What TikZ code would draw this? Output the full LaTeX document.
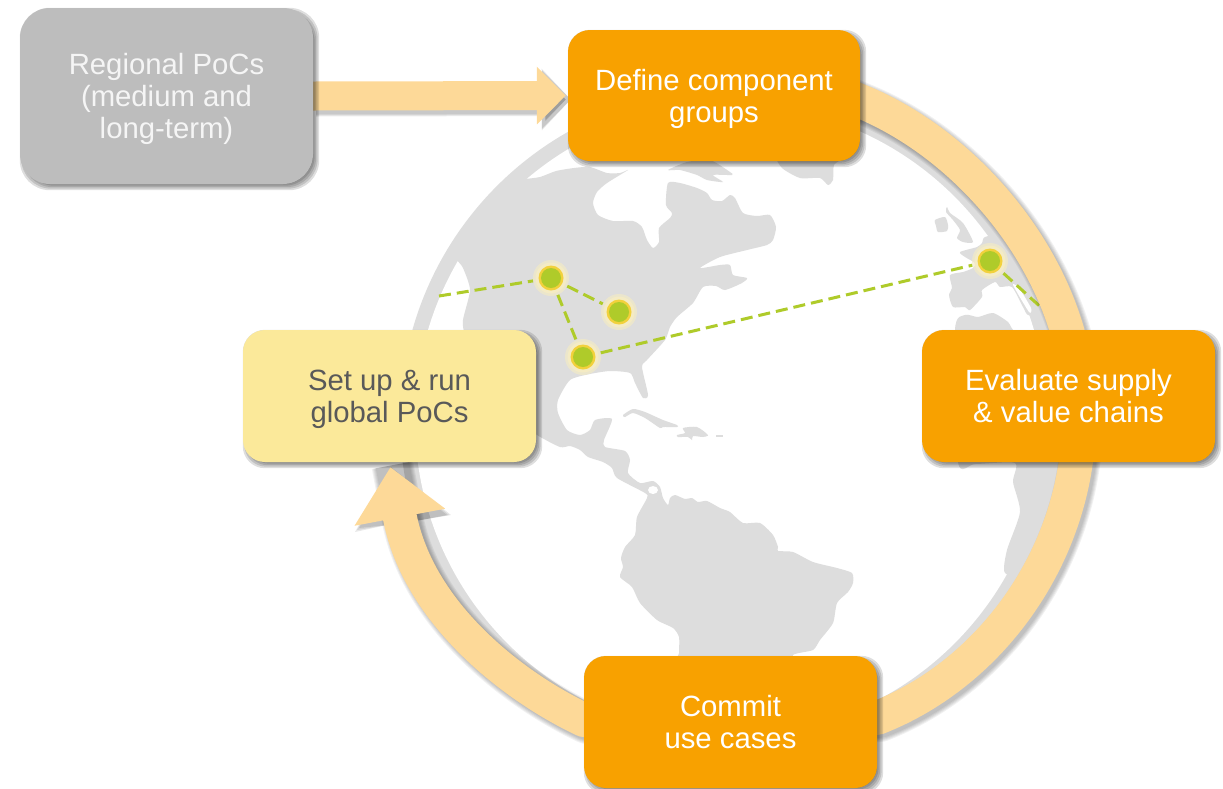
\documentclass[tikz,border=0pt]{standalone}
\usepackage{fontspec}
\setmainfont{Liberation Sans}
\usetikzlibrary{arrows.meta}
\definecolor{orangebox}{HTML}{F8A100}
\definecolor{yellowbox}{HTML}{FBE99A}
\definecolor{greybox}{HTML}{BDBDBD}
\definecolor{bandcol}{HTML}{FDD998}
\definecolor{landcol}{HTML}{DDDDDD}
\definecolor{labeldark}{HTML}{595959}
\definecolor{dotgreen}{HTML}{AFCB2A}
\definecolor{dotyellow}{HTML}{F2D13C}
\definecolor{dotglow}{HTML}{F4EBC4}
\pgfdeclarelayer{globe}
\pgfdeclarelayer{ring}
\pgfdeclarelayer{shade}
\pgfsetlayers{globe,ring,shade,main}
\tikzset{
  card/.style={rounded corners=22pt,inner sep=0pt,minimum width=293pt,minimum height=132pt,align=center,
    font=\fontsize{29.3}{32}\selectfont,text=white,fill=orangebox,text depth=0pt},
  land/.style={fill=landcol},
  link/.style={draw=dotgreen,line width=3pt,dash pattern=on 12pt off 6pt},
  marker/.style={circle,inner sep=0pt,minimum size=36pt,fill=dotglow,fill opacity=.65,
    path picture={
      \fill[dotglow,fill opacity=1] (path picture bounding box.center) circle[radius=15.5pt];
      \fill[dotyellow,fill opacity=1] (path picture bounding box.center) circle[radius=12.5pt];
      \fill[dotgreen,fill opacity=1] (path picture bounding box.center) circle[radius=10pt];}},
  band/.style={draw=bandcol,line width=34pt,line join=round},
  bandshade/.style={draw=black,draw opacity=.055,line width=#1,line join=round,
    transform canvas={shift={(3pt,-3pt)}}},
}
\newcommand{\cardshade}[2][22]{%
  \begin{pgfonlayer}{shade}
  \foreach \w in {-3,-1.5,0,1.5,3}{
    \fill[black,opacity=.13,rounded corners=#1pt]
      ([shift={(3-\w,3+\w)}]#2.south west) rectangle ([shift={(3+\w,3-\w)}]#2.north east);
  }
  \end{pgfonlayer}}
\newcommand{\rightarc}{(def.center) -- (r0) -- (r1) .. controls (r1a) and (r1b) .. (r2) .. controls (r2a) and (r2b) .. (r3) -- (com.center)}
\newcommand{\leftarc}{(com.center) -- (l1) .. controls (l1a) and (l1b) .. (l2) -- (setup.south)}
\begin{document}
\begin{tikzpicture}[x=1pt,y=-1pt]
\useasboundingbox (0,0) rectangle (1223,788);

% cards
\node[card,fill=greybox,rounded corners=30pt,minimum width=293pt,minimum height=176pt,text=white!96!black] (reg) at (166.5,96) {Regional PoCs\\(medium and\\long-term)};
\node[card,minimum width=292pt,minimum height=131pt] (def) at (714,95.5) {Define component\\groups};
\node[card,fill=yellowbox,text=labeldark] (setup) at (389.5,396) {Set up \& run\\global PoCs};
\node[card] (eval) at (1068.5,396) {Evaluate supply\\\& value chains};
\node[card] (com) at (730.5,722) {Commit\\use cases};
\cardshade[30]{reg}
\cardshade{def}
\cardshade{setup}
\cardshade{eval}
\cardshade{com}

% globe
\begin{pgfonlayer}{globe}
\fill[landcol] (731,420) circle[radius=331pt];
\fill[white] (731,420) circle[radius=316pt];
% Americas
\fill[land] plot[smooth cycle,tension=.4] coordinates {
 (524,179) (540,177) (556,171) (574,168) (590,167) (607,173) (620,173) (628,170)
 (607,183) (597,192) (593,203) (598,215) (613,221) (633,221) (642,227) (647,240)
 (653,248) (659,242) (659,228) (670,218) (672,213) (666,205) (668,183) (680,183)
 (697,188) (707,193) (712,200) (722,201) (730,195) (735,198) (743,213) (757,216)
 (770,215) (776,227) (773,240) (767,245) (747,250) (720,257) (700,268) (720,265)
 (730,265) (733,275) (747,278) (742,283) (725,290) (716,286) (703,287) (693,303)
 (677,317) (670,327) (665,340) (647,360) (642,367) (648,395) (643,398) (635,383)
 (630,373) (610,371) (590,374) (570,380) (558,400) (558,413) (567,430) (580,435)
 (590,430) (595,420) (612,419) (604,440) (605,447) (625,451) (630,460) (628,473)
 (640,483) (653,481) (660,487) (663,498) (668,505) (670,498) (675,495) (685,499)
 (692,498) (698,502) (707,501) (720,508) (730,512) (743,523) (760,523) (773,535)
 (778,547) (778,551) (793,552) (813,562) (837,568) (852,573) (853,583) (848,592)
 (837,603) (833,623) (820,640) (813,650) (793,655) (793,670) (679,670) (679,653)
 (679,637) (673,628) (657,620) (640,603) (632,587) (620,577) (623,567) (621,558)
 (625,547) (635,535) (637,517) (647,498) (645,493) (617,478) (612,468) (603,462)
 (588,457) (580,450) (570,446) (560,447) (537,435) (500,410) (480,370) (465,335)
 (463,320) (470,290) (463,268) (457,260) (452,250) (490,205) (518,178)};
\fill[white] (653,490) ellipse[x radius=5pt,y radius=4pt];
% Arctic islands
\fill[land] plot[smooth cycle,tension=.4] coordinates {(668,170) (687,162) (710,160) (730,172) (732,175) (713,175) (723,182) (707,180) (697,175) (680,170)};
\fill[land] plot[smooth cycle,tension=.4] coordinates {(777,155) (782,168) (800,178) (820,178) (828,185) (833,180) (834,165) (845,155) (810,148)};
% Caribbean
\fill[land] plot[smooth cycle,tension=.4] coordinates {(623,415) (633,409) (645,412) (663,420) (677,425) (677,427) (663,427) (660,428) (645,418) (633,413) (625,417)};
\fill[land] plot[smooth cycle,tension=.4] coordinates {(677,435) (685,433) (683,428) (697,427) (708,435) (703,437) (693,436) (692,440) (688,437) (678,437)};
\fill[land] (716,435) rectangle (723,437);
% Europe
\fill[land] plot[smooth cycle,tension=.4] coordinates {(935,220) (945,217) (948,225) (947,231) (938,232) (936,226)};
\fill[land] plot[smooth cycle,tension=.4] coordinates {(947,207) (950,213) (963,223) (973,242) (963,242) (957,238) (960,230) (953,220) (946,212)};
\fill[land] plot[smooth cycle,tension=.4] coordinates {(960,252) (977,247) (982,243) (985,237) (1005,237) (1035,290) (1040,312) (1028,315) (1023,307) (1012,287) (1000,287) (995,282) (982,290) (982,297) (970,310) (965,307) (953,307) (949,295) (952,288) (950,275) (963,272) (973,268) (975,263) (965,257)};
\fill[white] plot[smooth cycle,tension=.4] coordinates {(1013,285) (1019,288) (1031,308) (1029,312)};
% Africa
\fill[land] plot[smooth cycle,tension=.4] coordinates {(955,330) (965,315) (978,317) (993,313) (1008,322) (1016,332) (1050,335) (1060,400) (1055,500) (1030,573) (1005,573) (1007,550) (1020,512) (1013,482) (1015,463) (975,464) (958,462)};
% markers
\node[marker] (m1) at (551,278) {};
\node[marker] (m2) at (619,312) {};
\node[marker] (m3) at (583,357) {};
\node[marker] (m4) at (990,261) {};
\coordinate (westend) at (439,296);
\coordinate (eastend) at (1045,311);
\draw[link] (westend) -- (m1);
\draw[link] (m1) -- (m2);
\draw[link] (m1) -- (m3);
\draw[link] (m3) -- (m4);
\draw[link] (m4) -- (eastend);
\end{pgfonlayer}

% ring bands
\coordinate (r0) at (820,84);
\coordinate (r1) at (860,101);
\coordinate (r1a) at (980,150);
\coordinate (r1b) at (1084,285);
\coordinate (r2) at (1079,420);
\coordinate (r2a) at (1078,550);
\coordinate (r2b) at (995,672);
\coordinate (r3) at (877,718);
\coordinate (l1) at (584,720);
\coordinate (l1a) at (510,685);
\coordinate (l1b) at (419,612);
\coordinate (l2) at (400,518);
\begin{pgfonlayer}{ring}
\foreach \w in {34,36,38,40,42}{
  \draw[bandshade=\w pt] \rightarc;
  \draw[bandshade=\w pt] \leftarc;
}
\foreach \w in {0,2,4}{
  \fill[black,opacity=.09,transform canvas={shift={(4pt,-4pt)}}] (355-\w,524+\w) -- (383,521) -- (417,516) -- (443+\w,511) -- (387,467-\w) -- cycle;
  \draw[black,opacity=.08,line width=29pt+\w pt,-{Triangle[length=29pt,width=56pt+\w pt]},transform canvas={shift={(3pt,-4pt)}}] (reg.east) -- (def.west);
}
\draw[band] \rightarc;
\draw[band,shorten >=5pt,-{Triangle[length=51pt,width=89pt]}] \leftarc;
\draw[draw=bandcol,line width=29pt,shorten >=2pt,-{Triangle[length=29pt,width=56pt]}] (reg.east) -- (def.west);
\end{pgfonlayer}
\end{tikzpicture}
\end{document}
